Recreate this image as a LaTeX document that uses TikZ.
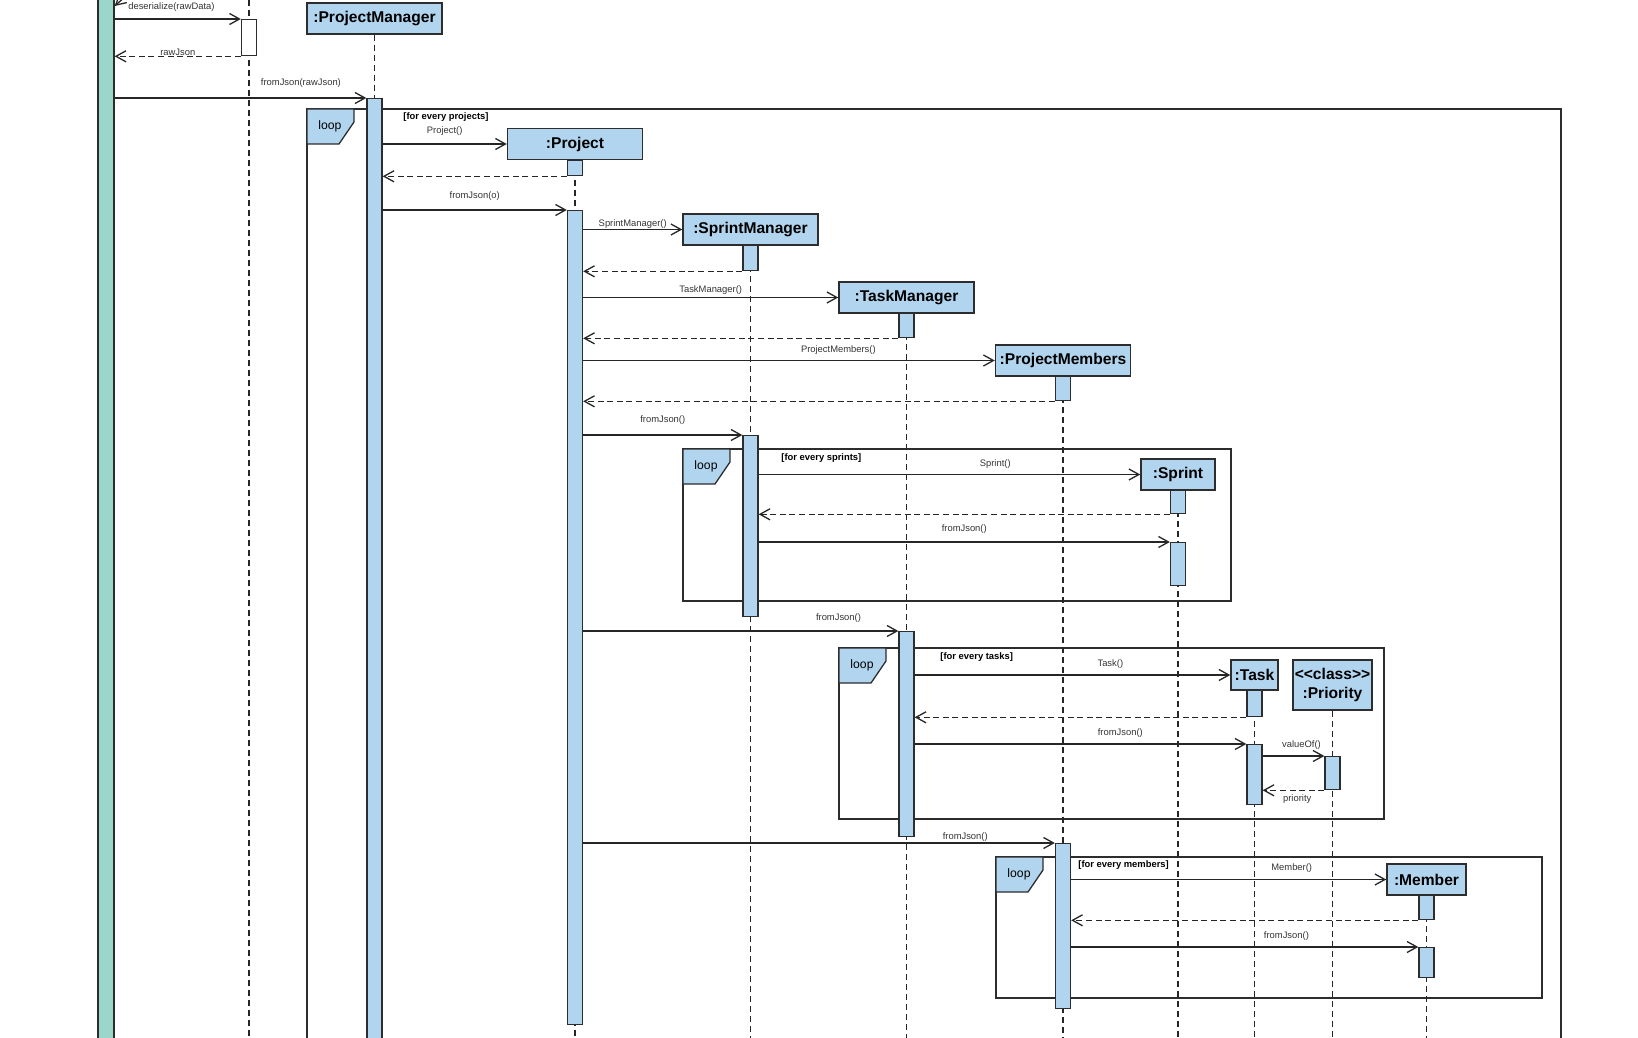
\documentclass[tikz,border=0pt]{standalone}
\usepackage{fontspec}
\setmainfont{Liberation Sans}
\usetikzlibrary{arrows.meta,backgrounds}

\definecolor{boxblue}{RGB}{178,213,239}
\definecolor{bargreen}{RGB}{154,214,201}
\definecolor{edgegray}{RGB}{45,45,45}

\newcommand{\lblfont}{\fontsize{4.7pt}{5.6pt}\selectfont}
\newcommand{\hdrfont}{\fontsize{7.8pt}{9.5pt}\selectfont\bfseries}

\begin{document}
\begin{tikzpicture}[
  x=0.5pt, y=-0.5pt,
  header/.style={draw=edgegray, line width=0.75pt, fill=boxblue, font=\hdrfont,
    inner sep=0pt, minimum width=67.5pt, minimum height=15.5pt},
  act/.style={draw=edgegray, line width=0.65pt, fill=boxblue, inner sep=0pt,
    minimum width=7.5pt, anchor=north},
  msg/.style={draw=black!85, line width=0.65pt, -{Straight Barb[length=5pt,width=5.5pt]}},
  reply/.style={msg, dash pattern=on 3pt off 1.8pt},
  lifeline/.style={draw=black!85, line width=0.65pt, dash pattern=on 3pt off 2pt},
  frame/.style={draw=edgegray, line width=0.65pt},
  msglbl/.style={font=\lblfont, text=black!80, inner sep=0pt, above=#1},
  msglbl/.default=4pt,
  guard/.style={font=\lblfont\bfseries, inner sep=0pt, anchor=west},
  looplbl/.style={font=\fontsize{6.1pt}{7pt}\selectfont, inner sep=0pt},
]
\useasboundingbox (0,0) rectangle (1638,1038);
\coordinate (bottom) at (0,1038);
\coordinate (ds-top) at (249,0);
\coordinate (self-from) at (126,-4);

\node[header] (pm)   at (374.5,18.5)  {:ProjectManager};
\node[header] (proj) at (575,144)     {:Project};
\node[header] (sm)   at (750.5,229.5) {:SprintManager};
\node[header] (tm)   at (906.5,297.5) {:TaskManager};
\node[header] (pmem) at (1063,360.5)  {:ProjectMembers};
\node[header, minimum width=37pt] (spr) at (1178,474.5) {:Sprint};
\node[header, minimum width=23.5pt, minimum height=15pt] (task) at (1254.5,675) {:Task};
\node[header, minimum width=39.5pt, minimum height=25pt, align=center] (prio)
  at (1332.5,685) {\mbox{<}\mbox{<}class\mbox{>}\mbox{>}\\:Priority};
\node[header, minimum width=39.5pt] (mem) at (1426.5,879.5) {:Member};

\node[act, fill=bargreen, minimum width=8pt, minimum height=535pt] (ui-a) at (106,-10) {};
\node[act, fill=white, minimum height=18pt] (ds-a) at (249,19) {};
\node[act, minimum height=481pt] (pm-a) at (374.5,98) {};
\node[act, minimum height=7.5pt] (proj-a1) at (575,160) {};
\node[act, minimum height=407pt] (proj-a2) at (575,210) {};
\node[act, minimum height=12.5pt] (sm-a1) at (750.5,245) {};
\node[act, minimum height=90.5pt] (sm-a2) at (750.5,435) {};
\node[act, minimum height=12pt] (tm-a1) at (906.5,313) {};
\node[act, minimum height=102.5pt] (tm-a2) at (906.5,631) {};
\node[act, minimum height=12pt] (pmem-a1) at (1063,376) {};
\node[act, minimum height=82.5pt] (pmem-a2) at (1063,843) {};
\node[act, minimum height=11.5pt] (spr-a1) at (1178,490) {};
\node[act, minimum height=21.5pt] (spr-a2) at (1178,542) {};
\node[act, minimum height=13pt] (task-a1) at (1254.5,690) {};
\node[act, minimum height=30pt] (task-a2) at (1254.5,744) {};
\node[act, minimum height=16.5pt] (prio-a) at (1332.5,756) {};
\node[act, minimum height=12pt] (mem-a1) at (1426.5,895) {};
\node[act, minimum height=15pt] (mem-a2) at (1426.5,947) {};

\begin{scope}[on background layer]
\foreach \nm/\x/\y/\X/\Y in {prj/307/109/1561/1060, spr/683/449/1231/601,
                             tsk/839/648/1384/819, mem/996/857/1542/998} {
  \draw[frame] (\x,\y) rectangle (\X,\Y);
  \draw[frame, fill=boxblue] (\x,\y) -- ++(47,0) -- ++(0,13) -- ++(-15,22) -- (\x,\y+35) -- cycle;
  \node[looplbl] (loop-\nm) at (\x+23,\y+17) {loop};
}
\draw[lifeline] (ds-top) -- (ds-top |- bottom);
\foreach \p in {pm, proj, sm, tm, pmem, spr, task, prio, mem}
  \draw[lifeline] (\p) -- (\p |- bottom);
\end{scope}

\draw[msg] (self-from) -- (ui-a.east |- 0,6);
\draw[msg] (ui-a.east |- ds-a.north) -- node[msglbl=3.6pt, pos=0.45] {deserialize(rawData)} (ds-a.north west);
\draw[reply] (ds-a.south west) -- node[msglbl=0pt] {rawJson} (ui-a.east |- ds-a.south west);
\draw[msg] (ui-a.east |- pm-a.north) -- node[msglbl=5pt, pos=0.74] {fromJson(rawJson)} (pm-a.north west);

\node[guard] (g-prj) at (403,117) {[for every projects]};
\draw[msg] (pm-a.east |- proj.west) -- node[msglbl=4.1pt] {Project()} (proj.west);
\draw[reply] (proj-a1.south west) -- (pm-a.east |- proj-a1.south west);
\draw[msg] (pm-a.east |- proj-a2.north) -- node[msglbl=4.6pt] {fromJson(o)} (proj-a2.north west);

\draw[msg] (proj-a2.east |- sm.west) -- node[msglbl=0.4pt] {SprintManager()} (sm.west);
\draw[reply] (sm-a1.south west) -- (proj-a2.east |- sm-a1.south west);
\draw[msg] (proj-a2.east |- tm.west) -- node[msglbl=1.4pt] {TaskManager()} (tm.west);
\draw[reply] (tm-a1.south west) -- (proj-a2.east |- tm-a1.south west);
\draw[msg] (proj-a2.east |- pmem.west) -- node[msglbl=2.8pt, pos=0.62] {ProjectMembers()} (pmem.west);
\draw[reply] (pmem-a1.south west) -- (proj-a2.east |- pmem-a1.south west);

\draw[msg] (proj-a2.east |- sm-a2.north) -- node[msglbl=4.8pt] {fromJson()} (sm-a2.north west);
\node[guard] (g-spr) at (781,458) {[for every sprints]};
\draw[msg] (sm-a2.east |- spr.west) -- node[msglbl=2.8pt, pos=0.62] {Sprint()} (spr.west);
\draw[reply] (spr-a1.south west) -- (sm-a2.east |- spr-a1.south west);
\draw[msg] (sm-a2.east |- spr-a2.north) -- node[msglbl=3.8pt] {fromJson()} (spr-a2.north west);

\draw[msg] (proj-a2.east |- tm-a2.north) -- node[msglbl=4.2pt, pos=0.81] {fromJson()} (tm-a2.north west);
\node[guard] (g-tsk) at (940,657) {[for every tasks]};
\draw[msg] (tm-a2.east |- task.west) -- node[msglbl=3.2pt, pos=0.62] {Task()} (task.west);
\draw[reply] (task-a1.south west) -- (tm-a2.east |- task-a1.south west);
\draw[msg] (tm-a2.east |- task-a2.north) -- node[msglbl=3.2pt, pos=0.62] {fromJson()} (task-a2.north west);
\draw[msg] (task-a2.east |- prio-a.north) -- node[msglbl=2.8pt, pos=0.63] {valueOf()} (prio-a.north west);
\draw[reply] (prio-a.south west) -- node[font=\lblfont, text=black!80, inner sep=0pt, below=1.8pt, pos=0.44] {priority} (task-a2.east |- prio-a.south west);

\draw[msg] (proj-a2.east |- pmem-a2.north) -- node[msglbl=0.4pt, pos=0.81] {fromJson()} (pmem-a2.north west);
\node[guard] (g-mem) at (1078,865) {[for every members]};
\draw[msg] (pmem-a2.east |- mem.west) -- node[msglbl=3.2pt, pos=0.70] {Member()} (mem.west);
\draw[reply] (mem-a1.south west) -- (pmem-a2.east |- mem-a1.south west);
\draw[msg] (pmem-a2.east |- mem-a2.north) -- node[msglbl=2.8pt, pos=0.62] {fromJson()} (mem-a2.north west);
\end{tikzpicture}
\end{document}
